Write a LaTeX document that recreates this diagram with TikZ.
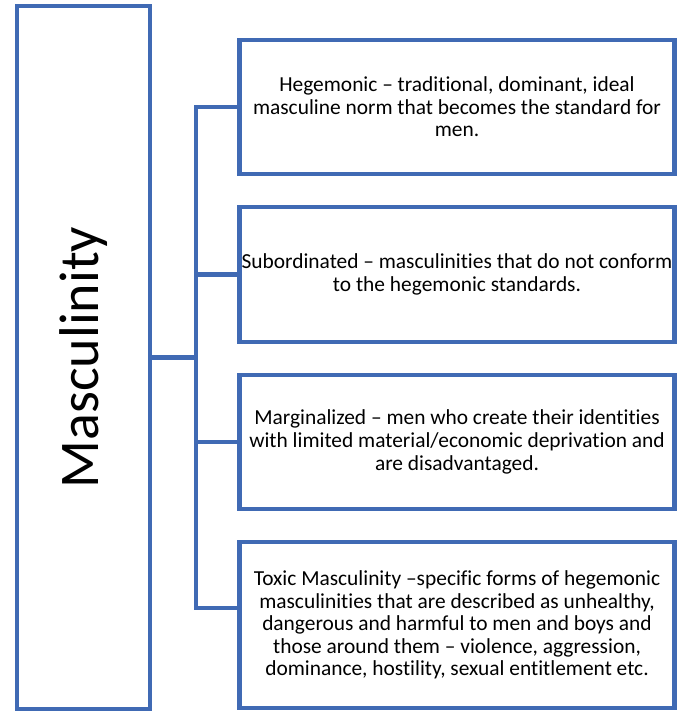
\documentclass[tikz,border=0pt]{standalone}
\usepackage{fontspec}
\setmainfont{Carlito}[Ligatures=CommonOff]
\usepackage{xcolor}
\usepackage{tikz}
\usetikzlibrary{positioning}
\definecolor{boxblue}{RGB}{64,106,180}
\tikzset{
    main_style/.style={
        rectangle,            % 左侧大框
        draw=boxblue,         % 边框颜色
        line width=4.5pt,     % 边框粗细
        fill=white,           % 填充颜色
        minimum width=133pt,  % 宽度
        minimum height=703pt, % 高度
        inner sep=0pt,
        font=\fontsize{56}{66}\selectfont % 竖排大字
    },
    box_style/.style={
        rectangle,            % 右侧说明框
        draw=boxblue,         % 边框颜色
        line width=4.5pt,     % 边框粗细
        fill=white,           % 填充颜色
        minimum width=435pt,  % 宽度
        minimum height=134pt, % 默认高度
        inner sep=0pt,
        align=center,         % 文字居中
        font=\fontsize{21.4}{22.6}\selectfont % 说明文字字体
    },
    link_style/.style={
        draw=boxblue,         % 连线颜色
        line width=4.5pt,     % 连线粗细
        line cap=rect         % 端点方形，拐角处不留缺口
    }
}

\begin{document}
\begin{tikzpicture}[x=1pt, y=-1pt, node distance=28.5pt] % 设置单位和框之间的距离
            \useasboundingbox (0,0) rectangle (677,712);
            % 1. 定义节点位置
            \node[main_style] (masc) at (83.5,357.5) {\rotatebox{90}{Masculinity}};
            \node[box_style] (hege) at (457,107)
                {Hegemonic – traditional, dominant, ideal\\masculine norm that becomes the standard for\\men.};
            \node[box_style, below=of hege, minimum height=135pt] (subo) % 在 hege 的下面
                {Subordinated – masculinities that do not conform\\to the hegemonic standards.};
            \node[box_style, below=of subo] (marg) % 在 subo 的下面
                {Marginalized – men who create their identities\\with limited material/economic deprivation and\\are disadvantaged.};
            \node[box_style, below=of marg, minimum height=166pt] (toxi) % 在 marg 的下面
                {Toxic Masculinity –specific forms of hegemonic\\masculinities that are described as unhealthy,\\dangerous and harmful to men and boys and\\those around them – violence, aggression,\\dominance, hostility, sexual entitlement etc.};
            \coordinate (hub) at (196,357.5);
            \coordinate (toxi_in) at ([yshift=17pt]toxi.west);

            % 2. 绘制连线
            \draw[link_style] (masc.east) -- (hub);
            \draw[link_style] (hub |- hege.west) -- (hub |- toxi_in);
            \draw[link_style] (hub |- hege.west) -- (hege.west);
            \draw[link_style] (hub |- subo.west) -- (subo.west);
            \draw[link_style] (hub |- marg.west) -- (marg.west);
            \draw[link_style] (hub |- toxi_in) -- (toxi_in);
        \end{tikzpicture}
\end{document}
